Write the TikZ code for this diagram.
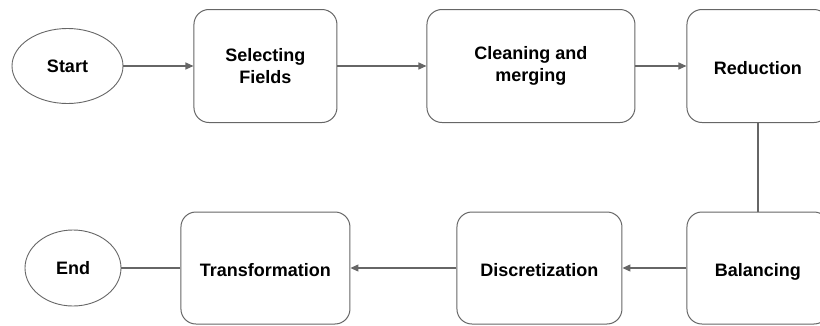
\documentclass[tikz,border=0pt]{standalone}
\usepackage{fontspec}
\setmainfont{Liberation Sans}
\usetikzlibrary{positioning,arrows.meta,shapes.geometric}
\definecolor{linegray}{HTML}{666666}

\begin{document}
\begin{tikzpicture}
[x=1pt, y=-1pt, font=\bfseries\fontsize{18}{22}\selectfont, >={Triangle[length=8pt,width=7pt]}]
\tikzstyle{stage}=[rectangle, draw=linegray, rounded corners=15pt, align=center, inner sep=0pt, line width=1pt]
\tikzstyle{oneline}=[text height=20pt, text depth=4pt]
\tikzstyle{terminal}=[ellipse, draw=linegray, inner sep=0pt, line width=0.9pt]
\tikzstyle{flow}=[draw=linegray, line width=1.2pt]

\clip (0,0) rectangle (820,325);

% top row
\node[terminal, minimum width=111pt, minimum height=75pt]	(Start)	at (67.5,66)	{Start};
\node[stage, minimum width=143pt, minimum height=113pt]	(Select)	[right=70pt of Start]	{Selecting\\Fields};
\node[stage, minimum width=208pt, minimum height=113pt]	(Clean)	[right=89pt of Select]	{Cleaning and\\merging};
\node[stage, oneline, minimum width=142pt, minimum height=113pt]	(Reduce)	[right=51pt of Clean]	{Reduction};

% bottom row
\node[terminal, minimum width=96pt, minimum height=76pt]	(End)	at (73,268)	{End};
\node[stage, oneline, minimum width=169pt, minimum height=112pt]	(Transform)	[right=59pt of End]	{Transformation};
\node[stage, oneline, minimum width=165pt, minimum height=112pt]	(Discretize)	[right=106pt of Transform]	{Discretization};
\node[stage, oneline, minimum width=142pt, minimum height=112pt]	(Balance)	[right=64pt of Discretize]	{Balancing};

\draw [flow,->] (Start)--(Select);
\draw [flow,->] (Select)--(Clean);
\draw [flow,->] (Clean)--(Reduce);
\draw [flow] (Reduce)--(Balance);
\draw [flow,->] (Balance)--(Discretize);
\draw [flow,->] (Discretize)--(Transform);
\draw [flow] (Transform)--(End);
\end{tikzpicture}
\end{document}
